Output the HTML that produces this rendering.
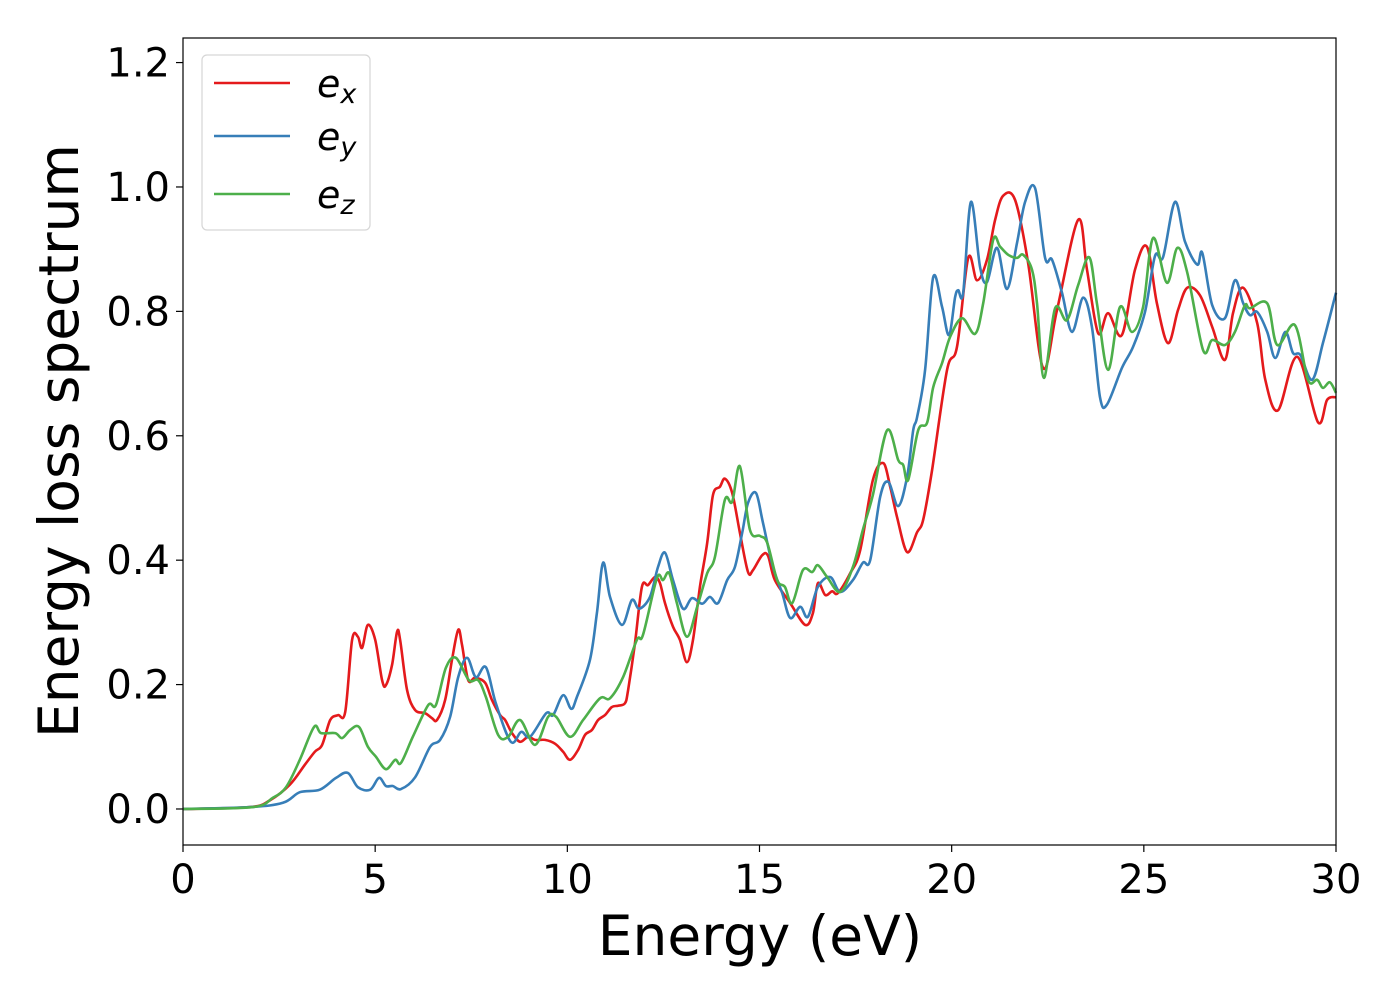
<!DOCTYPE html>
<html><head><meta charset="utf-8">
<style>
html,body{margin:0;padding:0;background:#fff;}
svg{display:block;font-family:"DejaVu Sans","Liberation Sans",sans-serif;}
</style></head>
<body>
<svg id="chart" width="1400" height="1000" viewBox="0 0 1400 1000" xmlns="http://www.w3.org/2000/svg">
<rect width="1400" height="1000" fill="#fff"/>
<g id="series"></g>
<rect x="183" y="38" width="1153" height="807" fill="none" stroke="#000" stroke-width="1.2"/>
<g id="xticks"></g>
<g id="yticks"></g>
<text x="760" y="955" font-size="55" text-anchor="middle">Energy (eV)</text>
<text transform="translate(78,441) rotate(-90)" font-size="55" text-anchor="middle">Energy loss spectrum</text>
<g>
<rect x="202" y="55" width="168" height="175" rx="5" fill="#fff" stroke="#d6d6d6" stroke-width="1.2"/>
<g>
<line x1="214" y1="83" x2="290" y2="83" stroke="#e41a1c" stroke-width="2.6"/>
<text x="317" y="97" font-size="38" font-style="italic">e<tspan font-size="27" dy="6">x</tspan></text>
</g>
<g>
<line x1="214" y1="136" x2="290" y2="136" stroke="#377eb8" stroke-width="2.6"/>
<text x="317" y="150" font-size="38" font-style="italic">e<tspan font-size="27" dy="6">y</tspan></text>
</g>
<g>
<line x1="214" y1="194" x2="290" y2="194" stroke="#4daf4a" stroke-width="2.6"/>
<text x="317" y="208" font-size="38" font-style="italic">e<tspan font-size="27" dy="6">z</tspan></text>
</g>
</g>
</svg>
<script>
const xTickValues=[0,5,10,15,20,25,30];
const yTickValues=[0.0,0.2,0.4,0.6,0.8,1.0,1.2];
const yTickLabels=["0.0","0.2","0.4","0.6","0.8","1.0","1.2"];
const exE=[0,1.74,2.26,2.78,3.17,3.43,3.62,3.83,4.03,4.22,4.40,4.55,4.66,4.81,5.00,5.18,5.28,5.44,5.57,5.65,5.83,6.04,6.30,6.48,6.61,6.82,7.00,7.16,7.26,7.42,7.60,7.86,8.04,8.25,8.38,8.56,8.77,8.98,9.16,9.42,9.68,9.89,10.07,10.28,10.46,10.64,10.80,10.98,11.16,11.32,11.50,11.58,11.76,11.94,12.10,12.28,12.41,12.54,12.75,12.93,13.11,13.27,13.45,13.64,13.79,13.97,14.10,14.29,14.49,14.70,14.83,15.07,15.22,15.40,15.80,16.19,16.39,16.52,16.71,16.89,17.04,17.36,17.62,17.95,18.22,18.40,18.58,18.84,19.10,19.26,19.49,19.88,20.14,20.43,20.66,20.92,21.13,21.34,21.65,21.99,22.38,22.74,23.29,23.52,23.81,24.07,24.43,24.77,25.08,25.34,25.63,25.89,26.13,26.46,26.78,27.11,27.32,27.58,27.95,28.16,28.49,28.99,29.53,29.77,30.00];
const exV=[0,0.003,0.014,0.039,0.071,0.092,0.103,0.143,0.151,0.156,0.272,0.277,0.259,0.296,0.272,0.207,0.199,0.232,0.285,0.272,0.191,0.159,0.154,0.146,0.143,0.175,0.240,0.288,0.264,0.207,0.211,0.203,0.175,0.151,0.143,0.122,0.108,0.116,0.111,0.111,0.105,0.092,0.079,0.095,0.119,0.127,0.143,0.151,0.164,0.166,0.170,0.191,0.267,0.357,0.360,0.373,0.363,0.331,0.293,0.272,0.236,0.272,0.357,0.428,0.505,0.518,0.531,0.508,0.444,0.381,0.384,0.408,0.407,0.368,0.331,0.296,0.315,0.363,0.344,0.350,0.347,0.379,0.416,0.529,0.556,0.518,0.469,0.413,0.445,0.465,0.545,0.706,0.743,0.886,0.850,0.883,0.947,0.986,0.979,0.878,0.709,0.802,0.947,0.867,0.765,0.797,0.762,0.867,0.904,0.813,0.749,0.802,0.838,0.826,0.775,0.722,0.797,0.838,0.781,0.690,0.641,0.727,0.622,0.658,0.662];
const eyE=[0,1.74,2.60,3.04,3.56,3.98,4.29,4.55,4.87,5.10,5.28,5.46,5.67,6.04,6.43,6.69,6.95,7.16,7.39,7.62,7.88,8.14,8.53,8.80,9.03,9.45,9.63,9.89,10.10,10.25,10.59,10.77,10.93,11.11,11.42,11.68,11.87,12.15,12.36,12.54,12.75,13.01,13.24,13.51,13.71,13.92,14.16,14.36,14.55,14.70,14.91,15.09,15.35,15.59,15.80,16.06,16.26,16.52,16.84,17.10,17.43,17.69,17.88,18.14,18.35,18.61,18.84,19.00,19.10,19.31,19.52,19.75,19.93,20.09,20.17,20.30,20.50,20.74,20.92,21.18,21.44,21.70,21.91,22.17,22.43,22.61,22.87,23.13,23.42,23.65,23.86,24.04,24.43,24.72,25.03,25.29,25.50,25.81,26.07,26.39,26.52,26.78,27.11,27.37,27.58,27.76,27.95,28.21,28.42,28.68,28.88,29.07,29.38,29.66,30.00];
const eyV=[0,0.003,0.010,0.027,0.031,0.050,0.058,0.035,0.031,0.050,0.037,0.037,0.032,0.051,0.100,0.111,0.148,0.212,0.243,0.212,0.228,0.170,0.108,0.124,0.116,0.154,0.151,0.183,0.161,0.180,0.240,0.315,0.396,0.341,0.296,0.336,0.322,0.341,0.389,0.412,0.368,0.322,0.339,0.330,0.341,0.331,0.368,0.389,0.444,0.492,0.508,0.460,0.389,0.347,0.307,0.325,0.309,0.357,0.373,0.349,0.368,0.396,0.400,0.502,0.526,0.487,0.534,0.609,0.630,0.706,0.855,0.807,0.762,0.823,0.834,0.830,0.976,0.871,0.847,0.902,0.836,0.910,0.976,0.998,0.886,0.883,0.830,0.767,0.822,0.775,0.662,0.650,0.709,0.743,0.799,0.889,0.887,0.976,0.912,0.875,0.894,0.810,0.789,0.850,0.814,0.794,0.799,0.767,0.725,0.767,0.733,0.730,0.690,0.749,0.830];
const ezE=[0,1.82,2.34,2.68,3.04,3.41,3.59,3.96,4.14,4.35,4.58,4.81,5.02,5.28,5.52,5.67,5.98,6.38,6.58,6.84,7.10,7.44,7.68,7.88,8.20,8.46,8.77,9.16,9.50,9.71,10.07,10.41,10.85,11.11,11.45,11.81,11.97,12.33,12.49,12.65,12.85,13.11,13.38,13.64,13.84,14.10,14.29,14.49,14.75,15.01,15.20,15.46,15.66,15.85,16.13,16.37,16.52,16.76,17.10,17.43,17.69,17.95,18.32,18.61,18.74,18.87,19.13,19.36,19.52,19.75,19.96,20.27,20.61,20.82,21.08,21.26,21.47,21.70,21.86,22.09,22.22,22.40,22.69,23.00,23.29,23.58,23.78,24.07,24.38,24.69,24.98,25.24,25.60,25.87,26.13,26.54,26.78,27.11,27.37,27.63,27.76,28.21,28.47,28.93,29.27,29.51,29.66,29.84,30.00];
const ezV=[0,0.003,0.018,0.035,0.079,0.132,0.122,0.122,0.114,0.127,0.132,0.100,0.084,0.064,0.079,0.074,0.116,0.167,0.167,0.227,0.243,0.207,0.207,0.180,0.119,0.116,0.143,0.103,0.148,0.148,0.116,0.143,0.178,0.178,0.212,0.272,0.280,0.371,0.368,0.379,0.331,0.277,0.325,0.379,0.405,0.497,0.494,0.551,0.449,0.439,0.428,0.368,0.357,0.331,0.384,0.381,0.392,0.373,0.349,0.389,0.449,0.505,0.609,0.561,0.553,0.529,0.609,0.621,0.678,0.717,0.759,0.789,0.764,0.813,0.915,0.904,0.891,0.886,0.891,0.867,0.813,0.693,0.805,0.786,0.842,0.887,0.813,0.706,0.807,0.767,0.807,0.918,0.846,0.902,0.862,0.738,0.754,0.746,0.767,0.810,0.805,0.813,0.746,0.778,0.690,0.690,0.677,0.686,0.669];

const X0=183,X1=1336,XMIN=0,XMAX=30;
const YT=38,YB=845,YMIN=-0.0579,YMAX=1.2395;
function xs(v){return X0+(v-XMIN)/(XMAX-XMIN)*(X1-X0);}
function ys(v){return YB-(v-YMIN)/(YMAX-YMIN)*(YB-YT);}
const NS="http://www.w3.org/2000/svg";
function smoothPath(E,V){
  const p=E.map((e,i)=>[xs(e),ys(V[i])]);
  let d="M"+p[0][0].toFixed(1)+","+p[0][1].toFixed(1);
  for(let i=0;i<p.length-1;i++){
    const a=p[Math.max(i-1,0)],b=p[i],c=p[i+1],n=p[Math.min(i+2,p.length-1)];
    const c1x=b[0]+(c[0]-a[0])/6,c1y=b[1]+(c[1]-a[1])/6;
    const c2x=c[0]-(n[0]-b[0])/6,c2y=c[1]-(n[1]-b[1])/6;
    d+=" C"+c1x.toFixed(1)+","+c1y.toFixed(1)+" "+c2x.toFixed(1)+","+c2y.toFixed(1)+" "+c[0].toFixed(1)+","+c[1].toFixed(1);
  }
  return d;
}
const sg=document.getElementById("series");
function addLine(E,V,color,name){
  const p=document.createElementNS(NS,"path");
  p.setAttribute("d",smoothPath(E,V));
  p.setAttribute("fill","none");
  p.setAttribute("stroke",color);
  p.setAttribute("stroke-width","2.6");
  p.setAttribute("stroke-linejoin","round");
  
  
  sg.appendChild(p);
}
addLine(exE,exV,"#e41a1c","series-ex-line");
addLine(eyE,eyV,"#377eb8","series-ey-line");
addLine(ezE,ezV,"#4daf4a","series-ez-line");

const xg=document.getElementById("xticks");
xTickValues.forEach(v=>{
  const x=xs(v);
  const l=document.createElementNS(NS,"line");
  l.setAttribute("x1",x);l.setAttribute("x2",x);l.setAttribute("y1",YB);l.setAttribute("y2",YB+7);
  l.setAttribute("stroke","#000");l.setAttribute("stroke-width","1.2");
  
  
  xg.appendChild(l);
  const t=document.createElementNS(NS,"text");
  t.setAttribute("x",x);t.setAttribute("y",893);t.setAttribute("font-size","40");t.setAttribute("text-anchor","middle");
  t.textContent=String(v);
  
  
  xg.appendChild(t);
});
const yg=document.getElementById("yticks");
yTickValues.forEach((v,i)=>{
  const y=ys(v);
  const l=document.createElementNS(NS,"line");
  l.setAttribute("x1",X0-7);l.setAttribute("x2",X0);l.setAttribute("y1",y);l.setAttribute("y2",y);
  l.setAttribute("stroke","#000");l.setAttribute("stroke-width","1.2");
  
  
  yg.appendChild(l);
  const t=document.createElementNS(NS,"text");
  t.setAttribute("x",170);t.setAttribute("y",y+14);t.setAttribute("font-size","40");t.setAttribute("text-anchor","end");
  t.textContent=yTickLabels[i];
  
  
  yg.appendChild(t);
});
</script>
</body></html>
